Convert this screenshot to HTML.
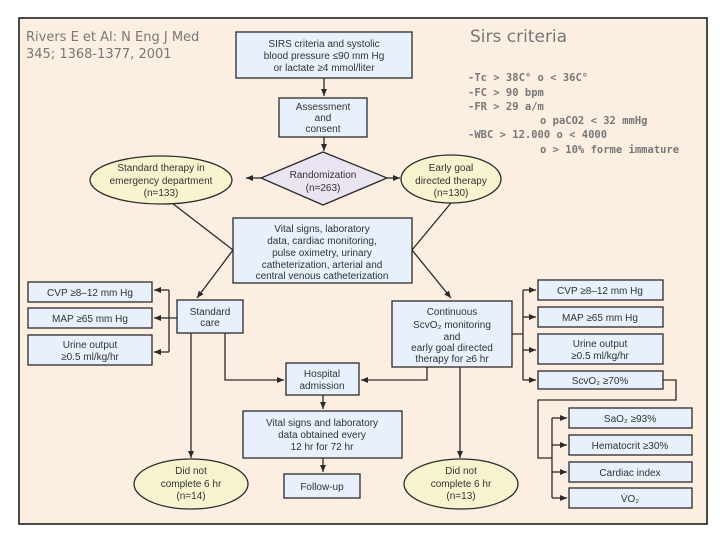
<!DOCTYPE html>
<html><head><meta charset="utf-8"><style>
html,body{margin:0;padding:0;background:#fff;}
svg{display:block;}
.b{fill:#e7f0fb;stroke:#2a2a2a;stroke-width:1.3;}
.e{fill:#f8f3cf;stroke:#2a2a2a;stroke-width:1.3;}
.l{stroke:#2a2a2a;stroke-width:1.3;fill:none;}
text{font-family:"Liberation Sans",sans-serif;font-size:10px;fill:#333;text-anchor:middle;}
text.a{font-family:"DejaVu Sans",sans-serif;fill:#777;text-anchor:start;}
text.ab{font-family:"DejaVu Sans Mono",monospace;fill:#777;text-anchor:start;font-size:10.5px;font-weight:bold;}
</style></head><body>
<svg width="720" height="540" viewBox="0 0 720 540">
<defs><marker id="m" markerWidth="8" markerHeight="8" refX="7" refY="4" orient="auto" markerUnits="userSpaceOnUse"><path d="M0,1 L7,4 L0,7 z" fill="#2a2a2a"/></marker></defs>
<rect x="19" y="18" width="688" height="506" fill="#fcefe2" stroke="#111" stroke-width="1.5"/>
<text class="a" x="26" y="41" style="font-size:13px">Rivers E et Al: N Eng J Med</text>
<text class="a" x="26" y="58" style="font-size:13px">345; 1368-1377, 2001</text>
<text class="a" x="470" y="42" style="font-size:17px">Sirs criteria</text>
<text class="ab" x="468" y="81">-Tc &gt; 38C° o &lt; 36C°</text>
<text class="ab" x="468" y="96">-FC &gt; 90 bpm</text>
<text class="ab" x="468" y="110">-FR &gt; 29 a/m</text>
<text class="ab" x="540" y="124">o paCO2 &lt; 32 mmHg</text>
<text class="ab" x="468" y="138">-WBC &gt; 12.000 o &lt; 4000</text>
<text class="ab" x="540" y="153">o &gt; 10% forme immature</text>

<path class="l" d="M324,78 V96" marker-end="url(#m)"/>
<path class="l" d="M324,137 V151" marker-end="url(#m)"/>
<path class="l" d="M261,178 H246" marker-end="url(#m)"/>
<path class="l" d="M387,178 H400" marker-end="url(#m)"/>
<path class="l" d="M172,203 L233,250 L197,298" marker-end="url(#m)"/>
<path class="l" d="M451,203 L412,250 L451,298" marker-end="url(#m)"/>
<path class="l" d="M177,318 H169 M169,290 V352"/>
<path class="l" d="M169,290 H154" marker-end="url(#m)"/>
<path class="l" d="M169,318 H154" marker-end="url(#m)"/>
<path class="l" d="M169,352 H154" marker-end="url(#m)"/>
<path class="l" d="M191,333 V458" marker-end="url(#m)"/>
<path class="l" d="M225,333 V380 H284" marker-end="url(#m)"/>
<path class="l" d="M427,367 V380 H361" marker-end="url(#m)"/>
<path class="l" d="M460,367 V458" marker-end="url(#m)"/>
<path class="l" d="M323,395 V409" marker-end="url(#m)"/>
<path class="l" d="M323,458 V472" marker-end="url(#m)"/>
<path class="l" d="M512,334 H523 M523,290 V380"/>
<path class="l" d="M523,290 H536" marker-end="url(#m)"/>
<path class="l" d="M523,317 H536" marker-end="url(#m)"/>
<path class="l" d="M523,350 H536" marker-end="url(#m)"/>
<path class="l" d="M523,380 H536" marker-end="url(#m)"/>
<path class="l" d="M663,380 H676 V400 H538 V458 H552 M552,418 V498"/>
<path class="l" d="M552,418 H567" marker-end="url(#m)"/>
<path class="l" d="M552,445 H567" marker-end="url(#m)"/>
<path class="l" d="M552,472 H567" marker-end="url(#m)"/>
<path class="l" d="M552,498 H567" marker-end="url(#m)"/>

<rect class="b" x="236" y="32" width="176" height="46"/>
<text x="324" y="47">SIRS criteria and systolic</text>
<text x="324" y="59">blood pressure ≤90 mm Hg</text>
<text x="324" y="71">or lactate ≥4 mmol/liter</text>
<rect class="b" x="279" y="98" width="88" height="39"/>
<text x="323" y="110">Assessment</text><text x="323" y="121">and</text><text x="323" y="132">consent</text>
<path d="M323,152 L387,178 L323,205 L261,178 z" fill="#e9e3f2" stroke="#2a2a2a" stroke-width="1.3"/>
<text x="323" y="178">Randomization</text><text x="323" y="191">(n=263)</text>
<ellipse class="e" cx="161" cy="180" rx="71" ry="24"/>
<text x="161" y="171">Standard therapy in</text><text x="161" y="184">emergency department</text><text x="161" y="196">(n=133)</text>
<ellipse class="e" cx="451" cy="179" rx="50" ry="24"/>
<text x="451" y="171">Early goal</text><text x="451" y="184">directed therapy</text><text x="451" y="196">(n=130)</text>
<rect class="b" x="233" y="218" width="179" height="65"/>
<text x="322" y="232">Vital signs, laboratory</text><text x="322" y="244">data, cardiac monitoring,</text><text x="322" y="256">pulse oximetry, urinary</text><text x="322" y="268">catheterization, arterial and</text><text x="322" y="279">central venous catheterization</text>
<rect class="b" x="177" y="300" width="66" height="33"/>
<text x="210" y="315">Standard</text><text x="210" y="326">care</text>
<rect class="b" x="28" y="282" width="124" height="20"/><text x="90" y="296">CVP ≥8–12 mm Hg</text>
<rect class="b" x="28" y="308" width="124" height="20"/><text x="90" y="322">MAP ≥65 mm Hg</text>
<rect class="b" x="28" y="335" width="124" height="30"/><text x="90" y="348">Urine output</text><text x="90" y="360">≥0.5 ml/kg/hr</text>
<rect class="b" x="392" y="301" width="120" height="66"/>
<text x="452" y="315">Continuous</text><text x="452" y="328">ScvO₂ monitoring</text><text x="452" y="340">and</text><text x="452" y="351">early goal directed</text><text x="452" y="362">therapy for ≥6 hr</text>
<rect class="b" x="538" y="280" width="125" height="20"/><text x="600" y="294">CVP ≥8–12 mm Hg</text>
<rect class="b" x="538" y="307" width="125" height="20"/><text x="600" y="321">MAP ≥65 mm Hg</text>
<rect class="b" x="538" y="334" width="125" height="30"/><text x="600" y="347">Urine output</text><text x="600" y="359">≥0.5 ml/kg/hr</text>
<rect class="b" x="538" y="371" width="125" height="18"/><text x="600" y="384">ScvO₂ ≥70%</text>
<rect class="b" x="286" y="363" width="73" height="32"/><text x="322" y="377">Hospital</text><text x="322" y="389">admission</text>
<rect class="b" x="243" y="411" width="159" height="47"/>
<text x="322" y="426">Vital signs and laboratory</text><text x="322" y="438">data obtained every</text><text x="322" y="450">12 hr for 72 hr</text>
<rect class="b" x="284" y="474" width="76" height="24"/><text x="322" y="490">Follow-up</text>
<ellipse class="e" cx="191" cy="484" rx="57" ry="25"/>
<text x="191" y="474">Did not</text><text x="191" y="487">complete 6 hr</text><text x="191" y="499">(n=14)</text>
<ellipse class="e" cx="461" cy="484" rx="57" ry="25"/>
<text x="461" y="474">Did not</text><text x="461" y="487">complete 6 hr</text><text x="461" y="499">(n=13)</text>
<rect class="b" x="569" y="408" width="123" height="20"/><text x="630" y="422">SaO₂ ≥93%</text>
<rect class="b" x="569" y="435" width="123" height="20"/><text x="630" y="449">Hematocrit ≥30%</text>
<rect class="b" x="569" y="462" width="123" height="20"/><text x="630" y="476">Cardiac index</text>
<rect class="b" x="569" y="488" width="123" height="20"/><text x="630" y="502">V̇O₂</text>
</svg>
</body></html>
